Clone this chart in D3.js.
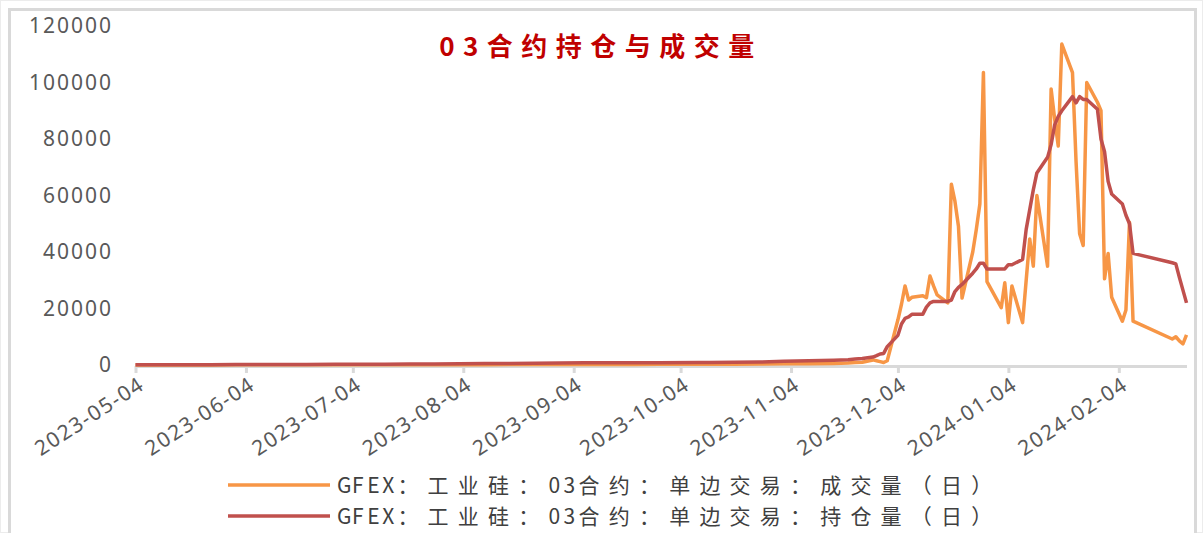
<!DOCTYPE html>
<html>
<head>
<meta charset="utf-8">
<script src="https://cdn.jsdelivr.net/npm/d3@7"></script>
<style>
  html, body { margin: 0; padding: 0; background: #fff; }
  svg { display: block; }
</style>
</head>
<body>
<svg id="chart" width="1203" height="533"></svg>
<script>
// Trading dates (weekly while the contract was quiet, daily once it became active)
const dates = [
  "2023-05-04","2023-05-11","2023-05-18","2023-05-25","2023-06-01","2023-06-08","2023-06-15","2023-06-21",
  "2023-06-29","2023-07-06","2023-07-13","2023-07-20","2023-07-27","2023-08-03","2023-08-10","2023-08-17",
  "2023-08-24","2023-08-31","2023-09-07","2023-09-14","2023-09-21","2023-09-28","2023-10-09","2023-10-12",
  "2023-10-19","2023-10-26","2023-11-02","2023-11-09","2023-11-16","2023-11-20","2023-11-22","2023-11-24",
  "2023-11-27","2023-11-28","2023-11-29","2023-11-30","2023-12-01",
  "2023-12-04","2023-12-05","2023-12-06","2023-12-07","2023-12-08",
  "2023-12-11","2023-12-12","2023-12-13","2023-12-14","2023-12-15",
  "2023-12-18","2023-12-19","2023-12-20","2023-12-21","2023-12-22",
  "2023-12-25","2023-12-26","2023-12-27","2023-12-28","2023-12-29",
  "2024-01-02","2024-01-03","2024-01-04","2024-01-05",
  "2024-01-08","2024-01-09","2024-01-10","2024-01-11","2024-01-12",
  "2024-01-15","2024-01-16","2024-01-17","2024-01-18","2024-01-19",
  "2024-01-22","2024-01-23","2024-01-24","2024-01-25","2024-01-26",
  "2024-01-29","2024-01-30","2024-01-31","2024-02-01","2024-02-02",
  "2024-02-05","2024-02-06","2024-02-07","2024-02-08",
  "2024-02-19","2024-02-20","2024-02-21","2024-02-22","2024-02-23"
];

// 成交量 (daily volume)
const volume = [
  20, 30, 40, 40, 50, 60, 60, 70,
  80, 80, 90, 100, 110, 120, 130, 150,
  160, 180, 200, 200, 220, 230, 250, 280,
  300, 350, 400, 450, 550, 700, 850, 1000,
  1800, 1500, 1200, 900, 1500,
  16000, 21500, 28000, 23000, 24000,
  24500, 23800, 31500, 28000, 24800,
  22000, 64000, 58000, 49000, 23700,
  40000, 48000, 57000, 103500, 29500,
  20300, 29100, 15000, 28000,
  15000, 30000, 44600, 35000, 60000,
  35000, 97700, 87000, 77500, 113600,
  103500, 72000, 46500, 42300, 100000,
  93000, 90000, 30500, 39500, 24000,
  15500, 19500, 50500, 15500,
  9200, 10000, 8500, 7500, 10700
];

// 持仓量 (daily open interest)
const openInterest = [
  50, 80, 100, 120, 150, 170, 180, 200,
  230, 260, 300, 340, 380, 430, 500, 560,
  620, 700, 760, 780, 800, 820, 850, 880,
  950, 1050, 1300, 1500, 1700, 1900, 2100, 2300,
  2800, 3300, 3900, 4100, 6500,
  10500, 14500, 16500, 17000, 18000,
  18000, 20500, 22000, 22500, 22500,
  22500, 23000, 26000, 27500, 28500,
  32500, 34000, 36000, 36000, 34000,
  34000, 34000, 35500, 35500,
  37400, 48000, 55000, 62000, 68000,
  73500, 78000, 85000, 88000, 90000,
  95000, 92800, 95000, 94000, 94000,
  90500, 80000, 75500, 65000, 60500,
  57000, 53000, 50000, 39500,
  36200, 35800, 31000, 26500, 22000
];

const tickDates = [
  "2023-05-04","2023-06-04","2023-07-04","2023-08-04","2023-09-04",
  "2023-10-04","2023-11-04","2023-12-04","2024-01-04","2024-02-04"
];
const yTicks = [0, 20000, 40000, 60000, 80000, 100000, 120000];

const seriesNames = [
  "GFEX：工业硅：03合约：单边交易：成交量（日）",
  "GFEX：工业硅：03合约：单边交易：持仓量（日）"
];
const seriesColors = ["#f79646", "#c0504d"];
const title = "03合约持仓与成交量";

const parse = d3.timeParse("%Y-%m-%d");
const fmt = d3.timeFormat("%Y-%m-%d");
const xDates = dates.map(parse);

const svg = d3.select("#chart");

// frame
svg.append("rect").attr("x", 0.5).attr("y", 0.5).attr("width", 1202).attr("height", 532)
  .attr("fill", "#fff").attr("stroke", "#ececec").attr("stroke-width", 1);
svg.append("rect").attr("x", 9.5).attr("y", 9.5).attr("width", 1186).attr("height", 530)
  .attr("fill", "#fff").attr("stroke", "#d9d9d9").attr("stroke-width", 3);

const x = d3.scaleTime()
  .domain([parse("2023-05-04"), parse("2024-02-23")])
  .range([135.5, 1186.5]);
const y = d3.scaleLinear().domain([0, 120000]).range([365, 26]);

// y labels (no axis line)
svg.append("g")
  .selectAll("text")
  .data(yTicks)
  .join("text")
  .attr("x", 113)
  .attr("y", d => y(d))
  .attr("dy", "0.35em")
  .attr("text-anchor", "end")
  .attr("font-family", "'Noto Sans', 'DejaVu Sans', sans-serif")
  .attr("font-size", 21)
  .attr("letter-spacing", 2)
  .attr("fill", "#595959")
  .text(d => d);

// x axis
const xAxis = d3.axisBottom(x)
  .tickValues(tickDates.map(parse))
  .tickFormat(fmt)
  .tickSizeOuter(0)
  .tickSizeInner(7)
  .tickPadding(6);

const gx = svg.append("g").attr("transform", `translate(0, ${y(0) + 1})`).call(xAxis);
gx.select(".domain").attr("stroke", "#d9d9d9").attr("stroke-width", 3);
gx.selectAll(".tick line").attr("stroke", "#d9d9d9").attr("stroke-width", 3);
gx.selectAll(".tick text")
  .attr("font-family", "'Noto Sans', 'DejaVu Sans', sans-serif")
  .attr("font-size", 21)
  .attr("letter-spacing", 1.6)
  .attr("fill", "#595959")
  .attr("text-anchor", "end")
  .attr("dy", null)
  .attr("y", 0)
  .attr("transform", "translate(10, 22) rotate(-33)");

// lines
const line = d3.line()
  .x((d, i) => x(xDates[i]))
  .y(d => y(d));

const g = svg.append("g");
[volume, openInterest].forEach((vals, k) => {
  g.append("path")
    .datum(vals)
    .attr("fill", "none")
    .attr("stroke", seriesColors[k])
    .attr("stroke-width", 3.5)
    .attr("stroke-linejoin", "round")
    .attr("d", line);
});

// title
svg.append("text")
  .attr("x", 601)
  .attr("y", 56)
  .attr("text-anchor", "middle")
  .attr("font-family", "'Noto Sans CJK SC', sans-serif")
  .attr("font-weight", "bold")
  .attr("font-size", 26)
  .attr("letter-spacing", 8.5)
  .attr("fill", "#c00000")
  .text(title);

// legend: full-width glyphs take two cells, half-width glyphs one
const cell = 15.1;
function glyphXs(str, x0) {
  const xs = [];
  let cx = x0;
  for (const ch of str) {
    xs.push(cx.toFixed(1));
    cx += ch.charCodeAt(0) > 0x2e80 ? cell * 2 : cell;
  }
  return xs.join(" ");
}

const legend = svg.append("g");
seriesNames.forEach((name, i) => {
  const ly = 485 + i * 31;
  legend.append("line")
    .attr("x1", 228).attr("x2", 330)
    .attr("y1", ly).attr("y2", ly)
    .attr("stroke", seriesColors[i])
    .attr("stroke-width", 3.5);
  legend.append("text")
    .attr("x", glyphXs(name, 337))
    .attr("y", ly)
    .attr("dy", "0.36em")
    .attr("font-family", "'Noto Sans CJK SC', sans-serif")
    .attr("font-size", 21)
    .attr("fill", "#404040")
    .text(name);
});
</script>
</body>
</html>
